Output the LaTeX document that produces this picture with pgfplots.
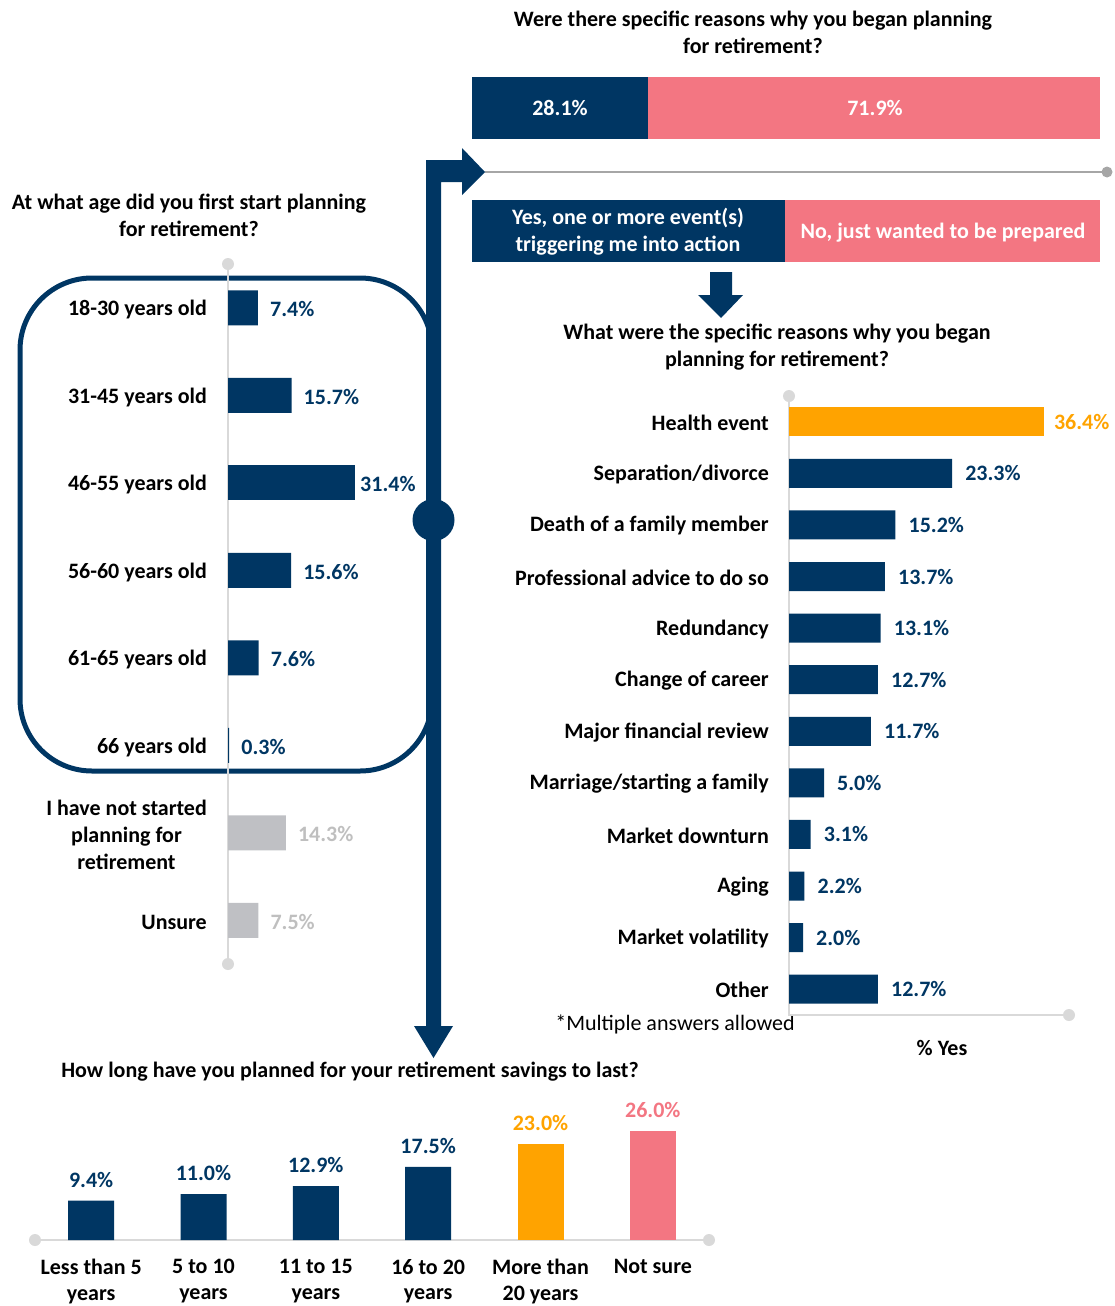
\documentclass[border=0pt]{standalone}
\usepackage{fontspec}
\setmainfont{Carlito}
\usepackage{pgfplots}
\pgfplotsset{compat=1.18}
\definecolor{navy}{RGB}{0,54,99}
\definecolor{pinkc}{RGB}{243,118,130}
\definecolor{orangec}{RGB}{255,163,0}
\definecolor{greybar}{RGB}{191,192,196}
\definecolor{greytxt}{RGB}{191,191,191}
\definecolor{axgrey}{RGB}{217,217,217}
\definecolor{linegrey}{RGB}{166,166,166}
\newcommand{\fs}{\fontsize{22}{27}\selectfont\bfseries}
\newcommand{\pct}{\pgfmathprintnumber[fixed,fixed zerofill,precision=1,assume math mode=true]{\pgfplotspointmeta}\%}
\pgfplotsset{/pgf/number format/assume math mode=true}
\begin{document}
\begin{tikzpicture}[x=1pt,y=1pt]
% rounded frame
\draw[navy, line width=5pt, rounded corners=72pt] (20,-278) rectangle (432,-771);

% titles
\node[font=\fs, align=center] at (189,-215) {At what age did you first start planning\\for retirement?};
\node[font=\fs, align=center] at (753,-32) {Were there specific reasons why you began planning\\for retirement?};
\node[font=\fs, align=center] at (777,-347) {What were the specific reasons why you began\\planning for retirement?};
\node[font=\fs] at (350,-1072) {How long have you planned for your retirement savings to last?};
\node[font=\fontsize{22}{27}\selectfont] at (675,-1024) {*Multiple answers allowed};
\node[font=\fs] at (942,-1048) {\% Yes};

% answer legend bars
\fill[navy] (472,-200) rectangle (785,-262);
\fill[pinkc] (785,-200) rectangle (1100,-262);
\node[font=\fs, text=white, align=center] at (628,-232) {Yes, one or more event(s)\\triggering me into action};
\node[font=\fs, text=white] at (943,-233) {No, just wanted to be prepared};

% small arrow
\fill[navy] (710,-272) -- (732,-272) -- (732,-295) -- (743,-295) -- (721,-318) -- (698,-295) -- (710,-295) -- cycle;

% grey separator line
\draw[linegrey, line width=2pt] (485,-172) -- (1107,-172);
\fill[linegrey] (1107,-172) circle (5.5);

% top stacked bar
\begin{axis}[at={(472pt,-139pt)}, anchor=south west, scale only axis,
  width=628pt, height=62pt, xmin=0, xmax=100, ymin=-0.5, ymax=0.5,
  xbar stacked, bar width=62pt, hide axis, clip=false]
\addplot[fill=navy, draw=none] coordinates {(28.1,0)};
\addplot[fill=pinkc, draw=none] coordinates {(71.9,0)};
\end{axis}
\node[font=\fs, text=white] at (560,-108) {28.1\%};
\node[font=\fs, text=white] at (875,-108) {71.9\%};

% left chart: age
\begin{axis}[at={(228pt,-964pt)}, anchor=south west, scale only axis,
  width=202.25pt, height=700pt,
  xmin=0, xmax=50, ymin=-0.5, ymax=7.5, y dir=reverse,
  xbar, bar width=35pt, clip=false,
  axis line style={draw=none}, xtick=\empty, ytick={0,...,7}, major tick length=0pt,
  yticklabels={18-30 years old,31-45 years old,46-55 years old,56-60 years old,61-65 years old,66 years old,{I have not started\\planning for\\retirement},Unsure},
  yticklabel style={font=\fs, align=center, inner sep=0pt, xshift=-21pt, yshift=-2pt},
  nodes near coords={\pct},
  every node near coord/.append style={font=\fs, anchor=west, inner sep=0pt, xshift=12pt, yshift=-1.5pt}]
\draw[axgrey, line width=1.5pt] (axis cs:0,-0.5) -- (axis cs:0,7.5);
\fill[axgrey] (axis cs:0,-0.5) circle (6pt);
\fill[axgrey] (axis cs:0,7.5) circle (6pt);
\addplot[fill=navy, draw=none, bar shift=0pt, every node near coord/.append style={text=navy}]
  coordinates {(7.4,0) (15.7,1) (15.6,3) (7.6,4) (0.3,5)};
\addplot[fill=navy, draw=none, bar shift=0pt, every node near coord/.append style={text=navy, xshift=-7pt}]
  coordinates {(31.4,2)};
\addplot[fill=greybar, draw=none, bar shift=0pt, every node near coord/.append style={text=greytxt}]
  coordinates {(14.3,6) (7.5,7)};
\end{axis}

% right chart: reasons
\begin{axis}[at={(789pt,-1015pt)}, anchor=south west, scale only axis,
  width=280pt, height=619pt,
  xmin=0, xmax=40, ymin=-0.5, ymax=11.5, y dir=reverse,
  xbar, bar width=29pt, clip=false,
  axis line style={draw=none}, xtick=\empty, ytick={0,...,11}, major tick length=0pt,
  yticklabels={Health event,Separation/divorce,Death of a family member,Professional advice to do so,Redundancy,Change of career,Major financial review,Marriage/starting a family,Market downturn,Aging,Market volatility,Other},
  yticklabel style={font=\fs, inner sep=0pt, xshift=-20pt, yshift=-1pt},
  nodes near coords={\pct},
  every node near coord/.append style={font=\fs, anchor=west, inner sep=0pt, xshift=13pt}]
\draw[axgrey, line width=1.5pt] (axis cs:0,-0.5) -- (axis cs:0,11.5) -- (axis cs:40,11.5);
\fill[axgrey] (axis cs:0,-0.5) circle (6pt);
\fill[axgrey] (axis cs:40,11.5) circle (6pt);
\addplot[fill=orangec, draw=none, bar shift=0pt, every node near coord/.append style={text=orangec, xshift=-3pt}]
  coordinates {(36.4,0)};
\addplot[fill=navy, draw=none, bar shift=0pt, every node near coord/.append style={text=navy}]
  coordinates {(23.3,1) (15.2,2) (13.7,3) (13.1,4) (12.7,5) (11.7,6) (5.0,7) (3.1,8) (2.2,9) (2.0,10) (12.7,11)};
\end{axis}

% bottom chart: duration
\begin{axis}[at={(35pt,-1240pt)}, anchor=south west, scale only axis,
  width=674pt, height=125.4pt,
  xmin=-0.5, xmax=5.5, ymin=0, ymax=30,
  ybar, bar width=46pt, clip=false,
  axis line style={draw=none}, ytick=\empty, xtick={0,...,5}, major tick length=0pt,
  xticklabels={{Less than 5\\years},{5 to 10\\years},{11 to 15\\years},{16 to 20\\years},{More than\\20 years},{Not sure}},
  xticklabel style={font=\fontsize{22}{25.5}\selectfont\bfseries, align=center, inner sep=0pt, yshift=-19pt},
  nodes near coords={\pct},
  every node near coord/.append style={font=\fs, anchor=south, inner sep=0pt, yshift=13pt}]
\draw[axgrey, line width=2pt] (axis cs:-0.5,0) -- (axis cs:5.5,0);
\fill[axgrey] (axis cs:-0.5,0) circle (6pt);
\fill[axgrey] (axis cs:5.5,0) circle (6pt);
\addplot[fill=navy, draw=none, bar shift=0pt, every node near coord/.append style={text=navy}]
  coordinates {(0,9.4) (1,11.0) (2,12.9) (3,17.5)};
\addplot[fill=orangec, draw=none, bar shift=0pt, every node near coord/.append style={text=orangec}]
  coordinates {(4,23.0)};
\addplot[fill=pinkc, draw=none, bar shift=0pt, every node near coord/.append style={text=pinkc}]
  coordinates {(5,26.0)};
\end{axis}

% big connecting arrow
\fill[navy] (414,-1026) -- (426,-1026) -- (426,-160) -- (462,-160) -- (462,-148) -- (485,-172)
  -- (462,-195) -- (462,-182) -- (441,-182) -- (441,-1026) -- (453,-1026) -- (433.5,-1058) -- cycle;
\fill[navy] (433.5,-520) circle (21);

\pgfresetboundingbox
\path (0,0) rectangle (1115,-1306);
\end{tikzpicture}
\end{document}
